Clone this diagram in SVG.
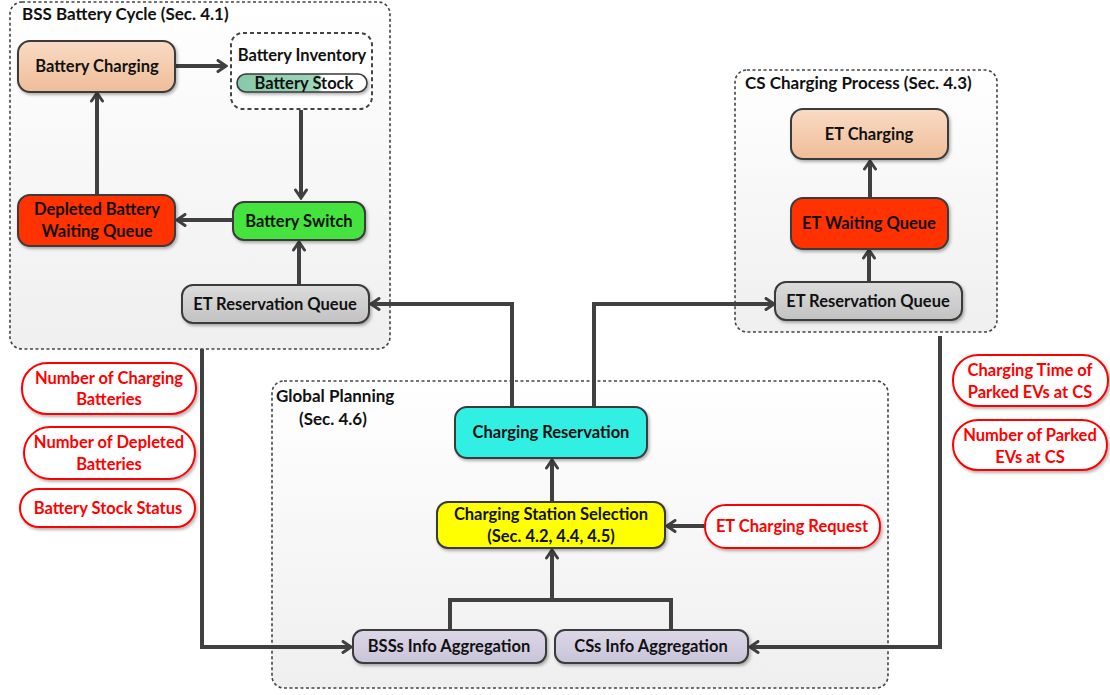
<svg xmlns="http://www.w3.org/2000/svg" width="1110" height="695" viewBox="0 0 1110 695">
<defs>
<linearGradient id="gCont" x1="0" y1="0" x2="0" y2="1"><stop offset="0" stop-color="#ffffff"/><stop offset="1" stop-color="#efefef"/></linearGradient>
<linearGradient id="gPeach" x1="0" y1="0" x2="0" y2="1"><stop offset="0" stop-color="#f9dbc4"/><stop offset="1" stop-color="#efbd98"/></linearGradient>
<linearGradient id="gGray" x1="0" y1="0" x2="0" y2="1"><stop offset="0" stop-color="#dcdcdc"/><stop offset="1" stop-color="#c2c2c2"/></linearGradient>
<linearGradient id="gLav" x1="0" y1="0" x2="0" y2="1"><stop offset="0" stop-color="#dcd8e6"/><stop offset="1" stop-color="#c9c3d9"/></linearGradient>
<linearGradient id="gStock" x1="0" y1="0" x2="1" y2="0"><stop offset="0" stop-color="#86caa8"/><stop offset="0.62" stop-color="#9dd5b8"/><stop offset="0.66" stop-color="#ffffff"/><stop offset="1" stop-color="#ffffff"/></linearGradient>
<filter id="sh" x="-10%" y="-10%" width="125%" height="140%"><feDropShadow dx="1.5" dy="2" stdDeviation="1.5" flood-color="#000" flood-opacity="0.3"/></filter>
<marker id="arr" viewBox="0 0 12 14" refX="10" refY="7" markerWidth="12" markerHeight="14" markerUnits="userSpaceOnUse" orient="auto">
<path d="M2,1.5 L10,7 L2,12.5" fill="none" stroke="#404040" stroke-width="3" stroke-linecap="round" stroke-linejoin="miter"/>
</marker>
<style>
text{font-family:Lato,"Open Sans","Liberation Sans",sans-serif;font-weight:bold;fill:#111;}
.t{font-size:16.5px;text-anchor:middle;}
.title{font-size:17px;}
.cont{fill:url(#gCont);stroke:#444;stroke-width:1.6;stroke-dasharray:3 2.5;}
.node{stroke:#3a3a3a;stroke-width:2;filter:url(#sh);}
.pill{fill:#fff;stroke:#ff0000;stroke-width:2;filter:url(#sh);}
.red{fill:#ff0000;font-size:16.5px;text-anchor:middle;}
.c{fill:none;stroke:#404040;stroke-width:4;}
.ca{fill:none;stroke:#404040;stroke-width:4;marker-end:url(#arr);}
</style>
</defs>
<rect width="1110" height="695" fill="#fff"/>

<g id="bss-container">
<rect class="cont" x="10" y="2" width="380" height="347" rx="12"/>
<text class="title" x="22" y="20">BSS Battery Cycle (Sec. 4.1)</text>
</g>
<g id="cs-container">
<rect class="cont" x="735" y="70" width="262" height="262" rx="12"/>
<text class="title" x="745" y="89">CS Charging Process (Sec. 4.3)</text>
</g>
<g id="global-container">
<rect class="cont" x="272" y="381" width="616" height="307" rx="12"/>
<text class="title" x="276" y="402">Global Planning</text>
<text class="title" x="299" y="425">(Sec. 4.6)</text>
</g>

<g id="connectors">
<line class="ca" x1="175" y1="66" x2="226" y2="66"/>
<line class="ca" x1="301" y1="110" x2="301" y2="198"/>
<line class="ca" x1="233" y1="220" x2="177" y2="220"/>
<line class="ca" x1="97" y1="195" x2="97" y2="93"/>
<line class="ca" x1="299" y1="285" x2="299" y2="242"/>
<polyline class="ca" points="512,407 512,304 371,304"/>
<polyline class="ca" points="594,407 594,304 774,304"/>
<line class="ca" x1="870" y1="198" x2="870" y2="161"/>
<line class="ca" x1="869" y1="282" x2="869" y2="250"/>
<line class="ca" x1="552" y1="502" x2="552" y2="460"/>
<line class="ca" x1="705" y1="526" x2="667" y2="526"/>
<line class="ca" x1="552" y1="600" x2="552" y2="550"/>
<polyline class="c" points="450,630 450,600 671,600 671,630"/>
<polyline class="ca" points="202,349 202,647 351,647"/>
<polyline class="ca" points="940,336 940,647 750,647"/>
</g>

<g id="battery-charging">
<rect class="node" x="18" y="41" width="157" height="51" rx="12" fill="url(#gPeach)"/>
<text class="t" x="97" y="72">Battery Charging</text>
</g>
<g id="battery-inventory">
<rect x="231" y="33" width="141" height="76" rx="12" fill="#fff" stroke="#444" stroke-width="2" stroke-dasharray="4 3"/>
<text class="t" x="302" y="61">Battery Inventory</text>
<rect x="237" y="74" width="130" height="18" rx="9" fill="url(#gStock)" stroke="#3a3a3a" stroke-width="1.6" filter="url(#sh)"/>
<text class="t" x="304" y="89">Battery Stock</text>
</g>
<g id="battery-switch">
<rect class="node" x="233" y="202" width="132" height="38" rx="11" fill="#44e33c"/>
<text class="t" x="299" y="227">Battery Switch</text>
</g>
<g id="depleted-queue">
<rect class="node" x="18" y="195" width="157" height="51" rx="12" fill="#ff3300"/>
<text class="t" x="97" y="215">Depleted Battery</text>
<text class="t" x="97" y="237">Waiting Queue</text>
</g>
<g id="bss-et-reservation">
<rect class="node" x="182" y="285" width="187" height="38" rx="11" fill="url(#gGray)"/>
<text class="t" x="275" y="310">ET Reservation Queue</text>
</g>

<g id="et-charging">
<rect class="node" x="791" y="109" width="157" height="50" rx="12" fill="url(#gPeach)"/>
<text class="t" x="869" y="140">ET Charging</text>
</g>
<g id="et-waiting">
<rect class="node" x="791" y="198" width="157" height="51" rx="12" fill="#ff3300"/>
<text class="t" x="869" y="229">ET Waiting Queue</text>
</g>
<g id="cs-et-reservation">
<rect class="node" x="775" y="282" width="187" height="38" rx="11" fill="url(#gGray)"/>
<text class="t" x="868" y="307">ET Reservation Queue</text>
</g>

<g id="charging-reservation">
<rect class="node" x="455" y="407" width="192" height="51" rx="12" fill="#33efe3"/>
<text class="t" x="551" y="438">Charging Reservation</text>
</g>
<g id="charging-station-selection">
<rect class="node" x="437" y="502" width="228" height="46" rx="11" fill="#ffff00"/>
<text class="t" x="551" y="520">Charging Station Selection</text>
<text class="t" x="551" y="542">(Sec. 4.2, 4.4, 4.5)</text>
</g>
<g id="et-charging-request">
<rect class="pill" x="705" y="505" width="175" height="43" rx="21"/>
<text class="red" x="792" y="532">ET Charging Request</text>
</g>
<g id="bss-info">
<rect class="node" x="353" y="630" width="193" height="33" rx="10" fill="url(#gLav)"/>
<text class="t" x="449" y="652">BSSs Info Aggregation</text>
</g>
<g id="cs-info">
<rect class="node" x="555" y="630" width="193" height="33" rx="10" fill="url(#gLav)"/>
<text class="t" x="651" y="652">CSs Info Aggregation</text>
</g>

<g id="num-charging-batteries">
<rect class="pill" x="22" y="363" width="174" height="51" rx="25"/>
<text class="red" x="109" y="384">Number of Charging</text>
<text class="red" x="109" y="405">Batteries</text>
</g>
<g id="num-depleted-batteries">
<rect class="pill" x="24" y="427" width="171" height="52" rx="26"/>
<text class="red" x="109" y="448">Number of Depleted</text>
<text class="red" x="109" y="470">Batteries</text>
</g>
<g id="battery-stock-status">
<rect class="pill" x="20" y="489" width="175" height="38" rx="19"/>
<text class="red" x="108" y="514">Battery Stock Status</text>
</g>
<g id="charging-time-parked">
<rect class="pill" x="953" y="355" width="155" height="51" rx="25"/>
<text class="red" x="1030" y="376">Charging Time of</text>
<text class="red" x="1030" y="398">Parked EVs at CS</text>
</g>
<g id="num-parked">
<rect class="pill" x="953" y="420" width="154" height="50" rx="25"/>
<text class="red" x="1030" y="441">Number of Parked</text>
<text class="red" x="1030" y="463">EVs at CS</text>
</g>
</svg>
